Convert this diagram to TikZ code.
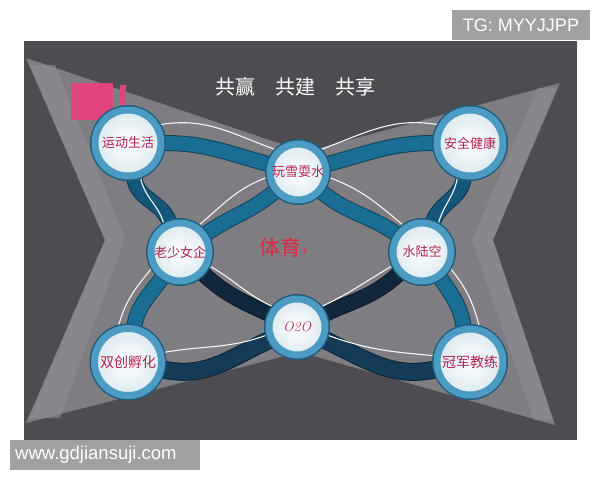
\documentclass[tikz,border=0pt]{standalone}
\usepackage{fontspec}
\setsansfont{Liberation Sans}
\newfontfamily\cjk{Noto Sans CJK SC}

\definecolor{panelgray}{HTML}{4D4D51}
\definecolor{winggray}{HTML}{7E7E82}
\definecolor{wingglow}{HTML}{8E8E93}
\definecolor{bandteal}{HTML}{1A6E93}
\definecolor{tealdeep}{HTML}{14577A}
\definecolor{navy}{HTML}{11283C}
\definecolor{navymid}{HTML}{143B57}
\definecolor{ringblue}{HTML}{4C9BC3}
\definecolor{ringdark}{HTML}{1F5C7E}
\definecolor{hubshade}{HTML}{DCE9EF}
\definecolor{labelred}{HTML}{B42150}
\definecolor{hotred}{HTML}{E3263F}
\definecolor{pinkmark}{HTML}{E0457E}
\definecolor{wmgray}{HTML}{A0A0A0}

\pgfdeclarelayer{panel}
\pgfdeclarelayer{bands}
\pgfsetlayers{panel,bands,main}

\begin{document}
\begin{tikzpicture}[x=1pt, y=1pt]
	\tikzset{
		hub/.style={circle, inner sep=0pt, draw=ringblue, line width=7pt,
			preaction={draw=ringdark, line width=10pt},
			inner color=white, outer color=hubshade,
			text=labelred, font=\cjk\fontsize{13}{15}\selectfont},
		band/.style={line width=1pt, draw=#1!60!black, double=#1, double distance=14pt},
		wire/.style={draw=white!92!gray, line width=1.1pt}
	}
	\useasboundingbox (0,0) rectangle (600,480);

	\begin{pgfonlayer}{panel}
		\fill[white] (0,0) rectangle (600,480);
		\fill[panelgray] (24,40) rectangle (577,439);
		\begin{scope}
			\clip (24,40) rectangle (577,439);
			\fill[winggray] (26,422) -- (305,328) -- (560,397) -- (493,240) -- (555,55)
				-- (300,128) -- (26,57) -- (105,240) -- cycle;
			\fill[wingglow, opacity=0.6] (30,415) -- (55,415) -- (125,242) -- (60,62) -- (30,62) -- (105,240) -- cycle;
			\fill[wingglow, opacity=0.6] (556,392) -- (538,392) -- (472,240) -- (534,60) -- (553,60) -- (493,240) -- cycle;
		\end{scope}
	\end{pgfonlayer}

	\fill[pinkmark] (71,360) rectangle (113,397);
	\fill[pinkmark] (120,375) rectangle (126,395);

	\node[font=\cjk\fontsize{20}{22}\selectfont, text=white] (motto) at (295,393) {共赢\quad 共建\quad 共享};
	\node[font=\cjk\fontsize{21}{22}\selectfont, text=hotred] (plus) at (284,233) {体育{\fontsize{12}{12}\selectfont +}};

	\node[hub, minimum size=66pt] (sport) at (128,337) {运动生活};
	\node[hub, minimum size=56pt] (snow) at (298,308) {玩雪耍水};
	\node[hub, minimum size=66pt] (safe) at (470,337) {安全健康};
	\node[hub, minimum size=58pt] (ages) at (180,228) {老少女企};
	\node[hub, minimum size=58pt] (land) at (422,228) {水陆空};
	\node[hub, minimum size=56pt, font=\rmfamily\itshape\fontsize{14}{16}\selectfont] (oto) at (297,153) {O2O};
	\node[hub, minimum size=67pt, font=\cjk\fontsize{14}{16}\selectfont] (incub) at (128,118) {双创孵化};
	\node[hub, minimum size=66pt, font=\cjk\fontsize{14}{16}\selectfont] (champ) at (470,118) {冠军教练};

	\begin{pgfonlayer}{bands}
		\draw[band=bandteal] (sport) to[out=0, in=165] (snow);
		\draw[band=bandteal] (safe) to[out=180, in=15] (snow);
		\draw[band=bandteal] (snow) to[out=-40, in=145] (land);
		\draw[band=bandteal] (snow) to[out=220, in=35] (ages);
		\draw[band=bandteal] (ages) to[out=235, in=80] (incub);
		\draw[band=bandteal] (land) to[out=-55, in=100] (champ);
		\draw[band=tealdeep] (sport) to[out=-80, in=110] (ages);
		\draw[band=tealdeep] (safe) to[out=260, in=70] (land);
		\draw[band=navy] (ages) to[out=-43, in=155] (oto);
		\draw[band=navy] (land) to[out=223, in=25] (oto);
		\draw[band=navymid, double distance=16pt] (oto) to[out=-25, in=192] (champ);
		\draw[band=navymid, double distance=16pt] (oto) to[out=205, in=348] (incub);

		\draw[wire] (sport.30) to[out=10, in=160] (snow.135);
		\draw[wire] (snow.45) to[out=20, in=170] (safe.150);
		\draw[wire] (snow.190) to[out=200, in=40] (ages.55);
		\draw[wire] (snow.-10) to[out=-20, in=140] (land.125);
		\draw[wire] (sport.-70) to[out=-80, in=105] (ages.120);
		\draw[wire] (safe.-110) to[out=-100, in=75] (land.60);
		\draw[wire] (ages.-25) to[out=-30, in=155] (oto.140);
		\draw[wire] (land.205) to[out=210, in=25] (oto.40);
		\draw[wire] (ages.210) to[out=230, in=75] (incub.105);
		\draw[wire] (land.-30) to[out=-50, in=105] (champ.75);
		\draw[wire] (incub.15) to[out=10, in=200] (oto.195);
		\draw[wire] (oto.-15) to[out=-20, in=175] (champ.170);
	\end{pgfonlayer}

	\node[fill=wmgray, minimum width=138pt, minimum height=30pt, inner sep=0pt,
		text=white, font=\sffamily\fontsize{18}{20}\selectfont] (tgtag) at (521,455) {TG: MYYJJPP};
	\fill[wmgray] (10,10) rectangle (200,40);
	\node[anchor=west, inner sep=0pt, text=white, font=\sffamily\fontsize{18.5}{20}\selectfont] (site) at (15,25) {www.gdjiansuji.com};
\end{tikzpicture}
\end{document}
